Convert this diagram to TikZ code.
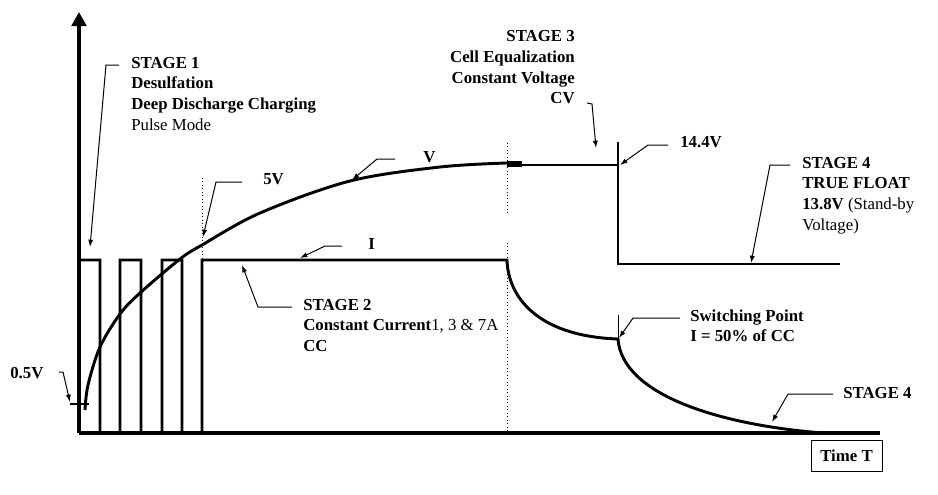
\documentclass[tikz,border=0pt]{standalone}
\usepackage{fontspec}
\setmainfont{Liberation Serif}
\usetikzlibrary{arrows.meta}
\begin{document}
\begin{tikzpicture}[x=0.75pt,y=-0.75pt,
  axis/.style={line width=2.3pt},
  curve/.style={line width=2.2pt},
  thinline/.style={line width=0.75pt},
  leader/.style={line width=0.75pt,-{Latex[length=5.5pt,width=3.8pt]}},
  guide/.style={line width=0.6pt,dotted},
  lbl/.style={inner sep=0pt,font=\bfseries\fontsize{12.6}{15.5}\selectfont},
  timebox/.style={draw,line width=0.75pt,inner sep=0pt,minimum width=53.25pt,minimum height=23.25pt,font=\bfseries\fontsize{12.6}{15.5}\selectfont},
]
\path[use as bounding box] (0,0) rectangle (938,494);
% axes
\coordinate (O) at (79,433);
\coordinate (Ytop) at (79,12);
\coordinate (Xend) at (880,433);
\draw[axis] (O) -- (Xend);
\draw[axis,-{Triangle[length=10.5pt,width=11pt]}] (O) -- (Ytop);
% current: pulses, constant current, decay
\draw[curve] (79,260) -- (100,260) -- (100,433) -- (120,433) -- (120,260) -- (141,260) -- (141,433)
  -- (162,433) -- (162,260) -- (182,260) -- (182,433) -- (202,433) -- (202,260) -- (507,260)
  .. controls (508,295) and (535,336) .. (618,339)
  .. controls (622,395) and (720,425) .. (823,433);
% voltage
\draw[curve] plot[smooth,tension=0.55] coordinates {(85,410) (88,385) (100,347) (120,314) (140,293) (180,259) (202,245) (260,213) (350,181) (440,167) (507,163)};
\draw[line width=4pt] (507,164) -- (522,164);
\draw[curve] (507,165) -- (618,165);
\draw[curve] (618,142) -- (618,264) -- (840,264);
% guides
\draw[guide] (202,178) -- (202,260);
\draw[guide] (507,143) -- (507,215);
\draw[guide] (507,243) -- (507,433);
\draw[thinline] (618,315) -- (618,339);
\draw[curve] (70,404) -- (89,404);
% labels
\node[lbl,anchor=base west] (s1) at (131,68) {\begin{tabular}[t]{@{}l@{}}STAGE 1\\Desulfation\\Deep Discharge Charging\\\textmd{Pulse Mode}\end{tabular}};
\node[lbl,anchor=base west] (v5) at (263,184) {5V};
\node[lbl,anchor=base west] (vl) at (423,162) {V};
\node[lbl,anchor=base west] (il) at (368,249) {I};
\node[lbl,anchor=base west] (s2) at (303,310) {\begin{tabular}[t]{@{}l@{}}STAGE 2\\Constant Current\textmd{1, 3 \& 7A}\\CC\end{tabular}};
\node[lbl,anchor=base west] (v05) at (10,378) {0.5V};
\node[lbl,anchor=base east] (s3) at (575,41.7) {\begin{tabular}[t]{@{}r@{}}STAGE 3\\Cell Equalization\\Constant Voltage\\CV\end{tabular}};
\node[lbl,anchor=base west] (v144) at (680,147) {14.4V};
\node[lbl,anchor=base west] (s4a) at (802,168) {\begin{tabular}[t]{@{}l@{}}STAGE 4\\TRUE FLOAT\\13.8V \textmd{(Stand-by}\\\textmd{Voltage)}\end{tabular}};
\node[lbl,anchor=base west] (sw) at (690,321) {\begin{tabular}[t]{@{}l@{}}Switching Point\\I = 50\% of CC\end{tabular}};
\node[lbl,anchor=base west] (s4b) at (843,398) {STAGE 4};
\node[timebox] (tt) at (846.5,455.5) {Time T};
% leader points
\coordinate (s1a) at (119,65); \coordinate (s1b) at (106,65); \coordinate (s1t) at (90,247);
\coordinate (v5a) at (242,182); \coordinate (v5b) at (216,182); \coordinate (v5t) at (203,237);
\coordinate (vla) at (395,159); \coordinate (vlb) at (377,159); \coordinate (vlt) at (352,180);
\coordinate (ila) at (342,246); \coordinate (ilb) at (325,246); \coordinate (ilt) at (300,258);
\coordinate (s2a) at (292,307); \coordinate (s2b) at (258,307); \coordinate (s2t) at (242,265);
\coordinate (v05a) at (59,372); \coordinate (v05b) at (63,372); \coordinate (v05t) at (70,402);
\coordinate (s3a) at (587,103); \coordinate (s3b) at (592,104); \coordinate (s3t) at (596,148);
\coordinate (v144a) at (668,145); \coordinate (v144b) at (648,145); \coordinate (v144t) at (620,165);
\coordinate (s4aa) at (790,165); \coordinate (s4ab) at (770,165); \coordinate (s4at) at (751,263);
\coordinate (swa) at (680,318); \coordinate (swb) at (633,318); \coordinate (swt) at (619,338);
\coordinate (s4ba) at (833,394); \coordinate (s4bb) at (788,394); \coordinate (s4bt) at (772,422);
\draw[leader] (s1a) -- (s1b) -- (s1t);
\draw[leader] (v5a) -- (v5b) -- (v5t);
\draw[leader] (vla) -- (vlb) -- (vlt);
\draw[leader] (ila) -- (ilb) -- (ilt);
\draw[leader] (s2a) -- (s2b) -- (s2t);
\draw[leader] (v05a) -- (v05b) -- (v05t);
\draw[leader] (s3a) -- (s3b) -- (s3t);
\draw[leader] (v144a) -- (v144b) -- (v144t);
\draw[leader] (s4aa) -- (s4ab) -- (s4at);
\draw[leader] (swa) -- (swb) -- (swt);
\draw[leader] (s4ba) -- (s4bb) -- (s4bt);
\end{tikzpicture}
\end{document}
